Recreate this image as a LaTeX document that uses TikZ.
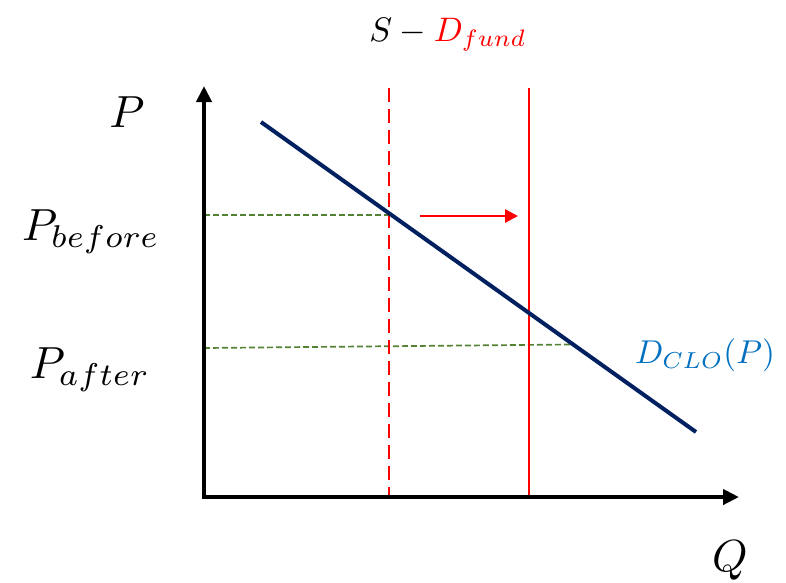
\documentclass[tikz,border=0pt]{standalone}
\usetikzlibrary{arrows.meta}
\definecolor{navy}{RGB}{0,32,96}
\definecolor{clo}{RGB}{0,112,192}
\definecolor{grn}{RGB}{84,130,53}
\begin{document}
\begin{tikzpicture}[x=1pt,y=-1pt,
  axis/.style={line width=4.2pt,-{Triangle[length=16pt,width=15pt]}},
  demand/.style={line width=4pt,draw=navy},
  supply/.style={line width=2.8pt,draw=red},
  guide/.style={line width=1.7pt,draw=grn,dash pattern=on 6pt off 3pt},
  shiftarrow/.style={line width=2.8pt,draw=red,-{Triangle[length=13pt,width=13pt]}},
  biglbl/.style={inner sep=0pt,scale=4.5},
  midlbl/.style={inner sep=0pt,scale=3.3},
  toplbl/.style={inner sep=0pt,scale=3.4}]
\useasboundingbox (0,0) rectangle (786,582);
% coordinates
\coordinate (O) at (204,497);
\coordinate (Ytop) at (204,86);
\coordinate (Xend) at (739,497);
\coordinate (D1) at (261,122);
\coordinate (D2) at (696,432);
\coordinate (S0t) at (389,88);
\coordinate (S0b) at (389,497);
\coordinate (S1t) at (529,88);
\coordinate (S1b) at (529,497);
\coordinate (G1a) at (204,215);
\coordinate (G1b) at (389,215);
\coordinate (G2a) at (204,348);
\coordinate (G2b) at (570,344.5);
\coordinate (A1) at (420,216);
\coordinate (A2) at (518,216);
% guides
\draw[guide] (G1a) -- (G1b);
\draw[guide] (G2a) -- (G2b);
% supply lines
\draw[supply,dash pattern=on 14pt off 7pt] (S0t) -- (S0b);
\draw[supply] (S1t) -- (S1b);
% demand
\draw[demand] (D1) -- (D2);
% shift arrow
\draw[shiftarrow] (A1) -- (A2);
% axes
\draw[line width=4.2pt,line cap=rect] (O) -- (204,480);
\draw[axis] (O) -- (Ytop);
\draw[axis] (O) -- (Xend);
% labels
\node[biglbl] (lP) at (127,112) {$P$};
\node[biglbl] (lPb) at (91,232) {$P_{before}$};
\node[biglbl] (lPa) at (90,370) {$P_{after}$};
\node[biglbl] (lQ) at (730,560) {$Q$};
\node[toplbl] (lS) at (448,35) {$S - \textcolor{red}{D_{fund}}$};
\node[midlbl,text=clo] (lD) at (705,355) {$D_{CLO}(P)$};
\end{tikzpicture}
\end{document}
